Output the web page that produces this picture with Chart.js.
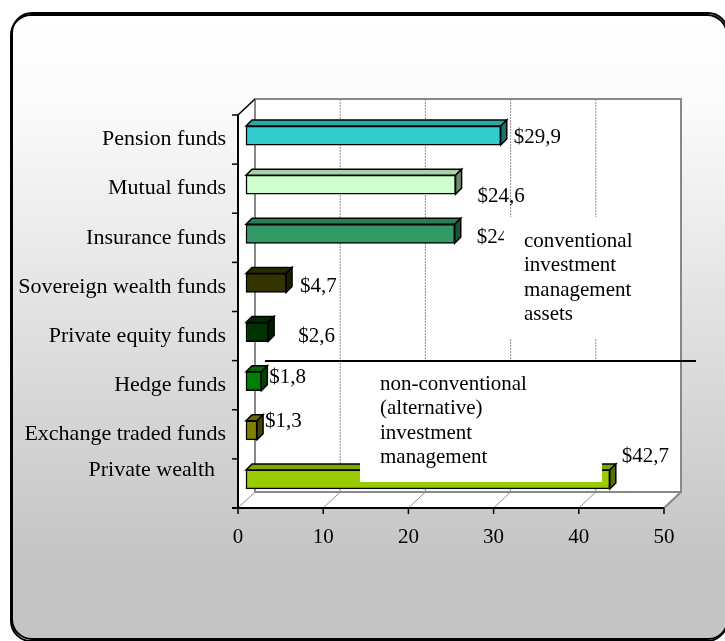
<!DOCTYPE html>
<html>
<head>
<meta charset="utf-8">
<script src="https://cdn.jsdelivr.net/npm/chart.js@4.4.0/dist/chart.umd.min.js"></script>
<style>
  html, body { margin: 0; padding: 0; background: #fff; overflow: hidden; }
  canvas { display: block; }
</style>
</head>
<body>
<canvas id="assetsChart" width="725" height="641"></canvas>
<script>
// Assets under management by type, $ trillion
const categories = ['Pension funds', 'Mutual funds', 'Insurance funds', 'Sovereign wealth funds',
  'Private equity funds', 'Hedge funds', 'Exchange traded funds', ['Private wealth  ', '']];
const assets = [29.9, 24.6, 24.5, 4.7, 2.6, 1.8, 1.3, 42.7];
const xTicks = [0, 10, 20, 30, 40, 50];
const barColors = ['#33cccc', '#ccffcc', '#339966', '#333300', '#003300', '#008000', '#808000', '#99cc00'];
const conventionalNote = ['conventional', 'investment', 'management', 'assets'];
const alternativeNote = ['non-conventional', '(alternative)', 'investment', 'management'];

// label nudges (px) from the bar end, hand placed
const labelShift = [[7, 2], [16, 12], [16, 4], [8, 4], [24, 4], [2, -4], [2, -9], [6, -23]];

const FAMILY = "'Liberation Serif', 'Times New Roman', serif";
const serif = { family: FAMILY, size: 21 };
const FONT = '21px ' + FAMILY;
const DEPTH = { x: 17, y: -16 };   // wall depth
const BAR_OFF = { x: 8, y: -4 };   // bars sit mid-depth
const BAR_D = 6;                   // bar thickness in depth

function shade(hex, f) {
  const n = parseInt(hex.slice(1), 16);
  const r = Math.round(((n >> 16) & 255) * f);
  const g = Math.round(((n >> 8) & 255) * f);
  const b = Math.round((n & 255) * f);
  return 'rgb(' + r + ',' + g + ',' + b + ')';
}

function poly(ctx, pts, fill, stroke, lw) {
  ctx.beginPath();
  ctx.moveTo(pts[0][0], pts[0][1]);
  for (let i = 1; i < pts.length; i++) ctx.lineTo(pts[i][0], pts[i][1]);
  ctx.closePath();
  if (fill) { ctx.fillStyle = fill; ctx.fill(); }
  if (stroke) { ctx.strokeStyle = stroke; ctx.lineWidth = lw || 1; ctx.stroke(); }
}

function line(ctx, x1, y1, x2, y2, color, lw, dash) {
  ctx.beginPath();
  ctx.setLineDash(dash || []);
  ctx.moveTo(x1, y1);
  ctx.lineTo(x2, y2);
  ctx.strokeStyle = color;
  ctx.lineWidth = lw;
  ctx.stroke();
  ctx.setLineDash([]);
}

// rounded grey panel behind everything, its right side runs just off the canvas
const framePlugin = {
  id: 'frame',
  beforeDraw(chart) {
    const ctx = chart.ctx;
    const x = 12, y = 13, w = 716, h = 626, r = 20;
    ctx.save();
    ctx.fillStyle = '#fff';
    ctx.fillRect(0, 0, chart.width, chart.height);
    const g = ctx.createLinearGradient(0, y, 0, y + h);
    g.addColorStop(0, '#ffffff');
    g.addColorStop(0.14, '#fbfbfb');
    g.addColorStop(0.88, '#c4c4c4');
    g.addColorStop(1, '#c4c4c4');
    ctx.beginPath();
    ctx.roundRect(x, y, w, h, r);
    ctx.fillStyle = g;
    ctx.fill();
    ctx.shadowColor = '#000';
    ctx.shadowOffsetX = -1;
    ctx.shadowOffsetY = 2;
    ctx.strokeStyle = '#000';
    ctx.lineWidth = 2;
    ctx.stroke();
    ctx.restore();
  }
};

// back wall, side wall, floor and axes
const wallPlugin = {
  id: 'wall',
  beforeDraw(chart) {
    const { ctx, chartArea: a, scales } = chart;
    const L = a.left, R = a.right, T = a.top, B = a.bottom;
    const dx = DEPTH.x, dy = DEPTH.y;
    ctx.save();
    poly(ctx, [[L, T], [L + dx, T + dy], [L + dx, B + dy], [L, B]], '#fff');
    poly(ctx, [[L, B], [R, B], [R + dx, B + dy], [L + dx, B + dy]], '#fff');
    ctx.fillStyle = '#fff';
    ctx.fillRect(L + dx, T + dy, R - L, B - T);

    xTicks.forEach(v => {
      const px = scales.x.getPixelForValue(v);
      if (v > 0 && v < 50) line(ctx, px + dx, T + dy, px + dx, B + dy, '#909090', 1, [2, 1]);
      line(ctx, px, B, px + dx, B + dy, '#909090', 1);
    });
    ctx.strokeStyle = '#888';
    ctx.lineWidth = 2;
    ctx.strokeRect(L + dx, T + dy, R - L, B - T);
    line(ctx, R, B, R + dx, B + dy, '#888', 2);

    // front axes
    line(ctx, L, T - 1, L, B, '#000', 2);
    line(ctx, L, T, L + dx, T + dy, '#000', 1.5);
    line(ctx, L - 6, B, R, B, '#000', 2);
    xTicks.forEach(v => {
      const px = scales.x.getPixelForValue(v);
      line(ctx, px, B, px, B + 6, '#000', 1.5);
    });
    const n = categories.length;
    for (let i = 0; i <= n; i++) {
      const y = T + i * (B - T) / n;
      line(ctx, L - 6, y, L, y, '#000', 1.5);
    }
    ctx.restore();
  }
};

// extruded bars and their value labels
const barPlugin = {
  id: 'bars3d',
  beforeDatasetsDraw(chart) {
    chart.ctx.save();
    chart.ctx.translate(BAR_OFF.x, BAR_OFF.y);
  },
  afterDatasetsDraw(chart) {
    const ctx = chart.ctx;
    ctx.restore();
    ctx.save();
    const meta = chart.getDatasetMeta(0);
    meta.data.forEach((el, i) => {
      const p = el.getProps(['x', 'y', 'base', 'height'], true);
      const l = p.base + BAR_OFF.x, r = p.x + BAR_OFF.x;
      const t = p.y - p.height / 2 + BAR_OFF.y, b = p.y + p.height / 2 + BAR_OFF.y;
      const c = barColors[i];
      poly(ctx, [[l, t], [l + BAR_D, t - BAR_D], [r + BAR_D, t - BAR_D], [r, t]], shade(c, 0.82), '#000', 1.5);
      poly(ctx, [[r, t], [r + BAR_D, t - BAR_D], [r + BAR_D, b - BAR_D], [r, b]], shade(c, 0.55), '#000', 1.5);

      ctx.font = FONT;
      ctx.fillStyle = '#000';
      ctx.textBaseline = 'middle';
      ctx.textAlign = 'left';
      const txt = '$' + assets[i].toFixed(1).replace('.', ',');
      ctx.fillText(txt, r + BAR_D + labelShift[i][0], (t + b) / 2 + labelShift[i][1]);
    });
    ctx.restore();
  }
};

// text boxes splitting conventional and alternative managers
const notePlugin = {
  id: 'notes',
  afterDraw(chart) {
    const ctx = chart.ctx;
    ctx.save();
    ctx.font = FONT;
    ctx.fillStyle = '#fff';
    ctx.fillRect(504, 217, 146, 121);
    ctx.fillStyle = '#000';
    ctx.textBaseline = 'alphabetic';
    conventionalNote.forEach((s, i) => ctx.fillText(s, 524, 247 + i * 24.4));

    line(ctx, 265, 361, 696, 361, '#000', 2);
    ctx.fillStyle = '#fff';
    ctx.fillRect(360, 362, 242, 120);
    ctx.fillStyle = '#000';
    alternativeNote.forEach((s, i) => ctx.fillText(s, 380, 390 + i * 24.4));
    ctx.restore();
  }
};

new Chart(document.getElementById('assetsChart'), {
  type: 'bar',
  data: {
    labels: categories,
    datasets: [{
      data: assets,
      backgroundColor: barColors,
      borderColor: '#000',
      borderWidth: 1.5,
      borderSkipped: false,
      barThickness: 19,
      clip: false
    }]
  },
  options: {
    indexAxis: 'y',
    responsive: false,
    animation: false,
    devicePixelRatio: 1,
    layout: { padding: { left: 12, right: 61, top: 115, bottom: 0 } },
    plugins: { legend: { display: false }, tooltip: { enabled: false } },
    scales: {
      x: {
        type: 'linear',
        min: 0,
        max: 50,
        afterBuildTicks: s => { s.ticks = xTicks.map(v => ({ value: v })); },
        afterFit: s => { s.height = 133; },
        grid: { display: false, drawTicks: false },
        border: { display: false },
        ticks: { font: serif, color: '#000', padding: 17, maxRotation: 0 }
      },
      y: {
        afterFit: s => { s.width = 226; },
        grid: { display: false, drawTicks: false },
        border: { display: false },
        ticks: { font: { family: FAMILY, size: 22 }, color: '#000', padding: 12, autoSkip: false }
      }
    }
  },
  plugins: [framePlugin, wallPlugin, barPlugin, notePlugin]
});
</script>
</body>
</html>
